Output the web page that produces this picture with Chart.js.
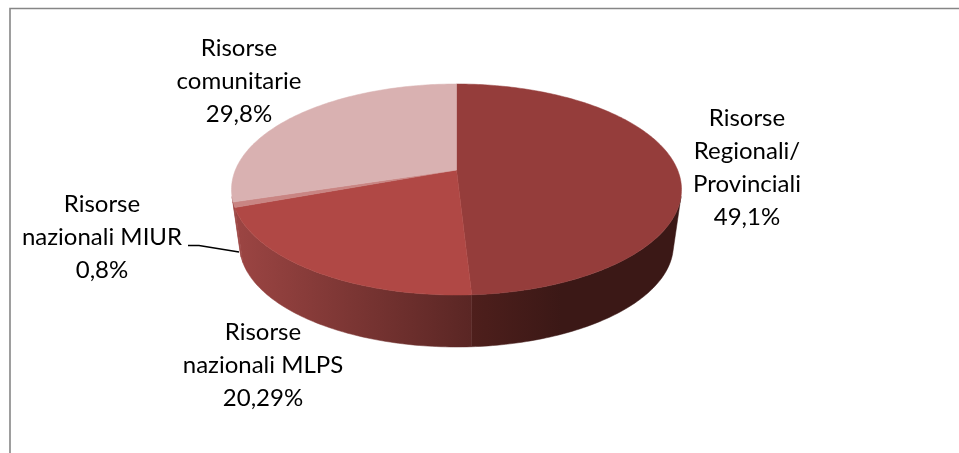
<!DOCTYPE html>
<html>
<head>
<meta charset="utf-8">
<script src="https://cdn.jsdelivr.net/npm/chart.js@4"></script>
<style>
  html, body { margin: 0; padding: 0; background: #fff; }
  canvas { display: block; }
</style>
</head>
<body>
<canvas id="torta" width="959" height="453"></canvas>
<script>
// Dati
const categorie = ['Risorse Regionali/ Provinciali', 'Risorse nazionali MLPS', 'Risorse nazionali MIUR', 'Risorse comunitarie'];
const valori = [49.1, 20.29, 0.8, 29.8];
const righeEtichette = [
  ['Risorse', 'Regionali/', 'Provinciali'],
  ['Risorse', 'nazionali MLPS'],
  ['Risorse', 'nazionali MIUR'],
  ['Risorse', 'comunitarie']
];

// Colori e posizione etichette
const coloriTop = ['#953d3b', '#b04845', '#c98583', '#d9b1b1'];
const coloriLato = [['#4e1f1c', '#3b1816'], ['#9c4543', '#5a2624'], ['#9c4543', '#9c4543'], ['#9c4543', '#9c4543']];
const posEtichette = [[747, 126], [263, 340], [102, 212], [239, 56]];
const ALTEZZA_RIGA = 33;

// Prospettiva della torta 3D
const CENTRO_Y = 189.5, PROSP = -0.185, SCHIACCIA = 0.469, SPESSORE = 55.5, BASE_X = 0.964, BASE_Y = 0.4533;
const FIANCO_DA = 0.25, FIANCO_A = 2.89; // angoli dei punti di tangenza

function proietta(el, a, base) {
  const x = Math.cos(a), y = Math.sin(a), d = 1 + PROSP * y;
  const px = x * Math.sqrt(1 - PROSP * PROSP) / d, py = (y + PROSP) / d;
  if (base) return [el.x + px * el.outerRadius * BASE_X, CENTRO_Y + SPESSORE + py * el.outerRadius * BASE_Y];
  return [el.x + px * el.outerRadius, CENTRO_Y + py * el.outerRadius * SCHIACCIA];
}

function campiona(a, b) {
  const n = Math.max(2, Math.ceil((b - a) * 60)), out = [];
  for (let i = 0; i <= n; i++) out.push(a + (b - a) * i / n);
  return out;
}

const torta3d = {
  id: 'torta3d',
  beforeDraw(chart) {
    const ctx = chart.ctx;
    ctx.save();
    ctx.strokeStyle = '#868686';
    ctx.lineWidth = 1.6;
    ctx.beginPath();
    ctx.moveTo(10, 453);
    ctx.lineTo(10, 8.5);
    ctx.lineTo(959, 8.5);
    ctx.stroke();
    ctx.restore();
  },
  beforeDatasetDraw(chart) {
    const ctx = chart.ctx, archi = chart.getDatasetMeta(0).data;
    ctx.save();
    // fianco: solo la parte anteriore si vede
    archi.forEach((el, i) => {
      const a = Math.max(el.startAngle, FIANCO_DA), b = Math.min(el.endAngle, FIANCO_A);
      if (b <= a) return;
      const angoli = campiona(a, b);
      const sopra = angoli.map(t => proietta(el, t, false));
      const sotto = angoli.map(t => proietta(el, t, true)).reverse();
      const xs = sopra.map(p => p[0]);
      const min = Math.min(...xs), max = Math.max(...xs);
      const g = ctx.createLinearGradient(min, 0, i === 0 ? min + 90 : max, 0);
      g.addColorStop(0, coloriLato[i][0]);
      g.addColorStop(1, coloriLato[i][1]);
      ctx.fillStyle = ctx.strokeStyle = g;
      ctx.lineWidth = 0.5;
      ctx.beginPath();
      sopra.concat(sotto).forEach((p, k) => k ? ctx.lineTo(p[0], p[1]) : ctx.moveTo(p[0], p[1]));
      ctx.closePath();
      ctx.fill();
      ctx.stroke();
    });
    // faccia superiore
    archi.forEach((el, i) => {
      const centro = [el.x, CENTRO_Y + PROSP * el.outerRadius * SCHIACCIA];
      ctx.fillStyle = ctx.strokeStyle = coloriTop[i];
      ctx.lineWidth = 0.5;
      ctx.beginPath();
      ctx.moveTo(centro[0], centro[1]);
      campiona(el.startAngle, el.endAngle).forEach(t => {
        const p = proietta(el, t, false);
        ctx.lineTo(p[0], p[1]);
      });
      ctx.closePath();
      ctx.fill();
      ctx.stroke();
    });
    ctx.restore();
    return false;
  },
  afterDatasetsDraw(chart) {
    const ctx = chart.ctx;
    ctx.save();
    // linea guida MIUR
    ctx.strokeStyle = '#000';
    ctx.lineWidth = 1.5;
    ctx.beginPath();
    ctx.moveTo(188, 245.5);
    ctx.lineTo(199, 245.5);
    ctx.lineTo(239, 252);
    ctx.stroke();
    ctx.fillStyle = '#000';
    ctx.font = '24px Lato';
    ctx.textAlign = 'center';
    ctx.textBaseline = 'alphabetic';
    righeEtichette.forEach((righe, i) => {
      const testo = righe.concat(String(valori[i]).replace('.', ',') + '%');
      testo.forEach((r, k) => ctx.fillText(r, posEtichette[i][0], posEtichette[i][1] + k * ALTEZZA_RIGA));
    });
    ctx.restore();
  }
};

new Chart(document.getElementById('torta'), {
  type: 'pie',
  data: {
    labels: categorie,
    datasets: [{ data: valori, backgroundColor: coloriTop, borderWidth: 0 }]
  },
  options: {
    responsive: false,
    animation: false,
    events: [],
    layout: { padding: { left: 231.5, right: 277.5, top: 1.5, bottom: 1.5 } },
    plugins: { legend: { display: false }, tooltip: { enabled: false } }
  },
  plugins: [torta3d]
});
</script>
</body>
</html>
